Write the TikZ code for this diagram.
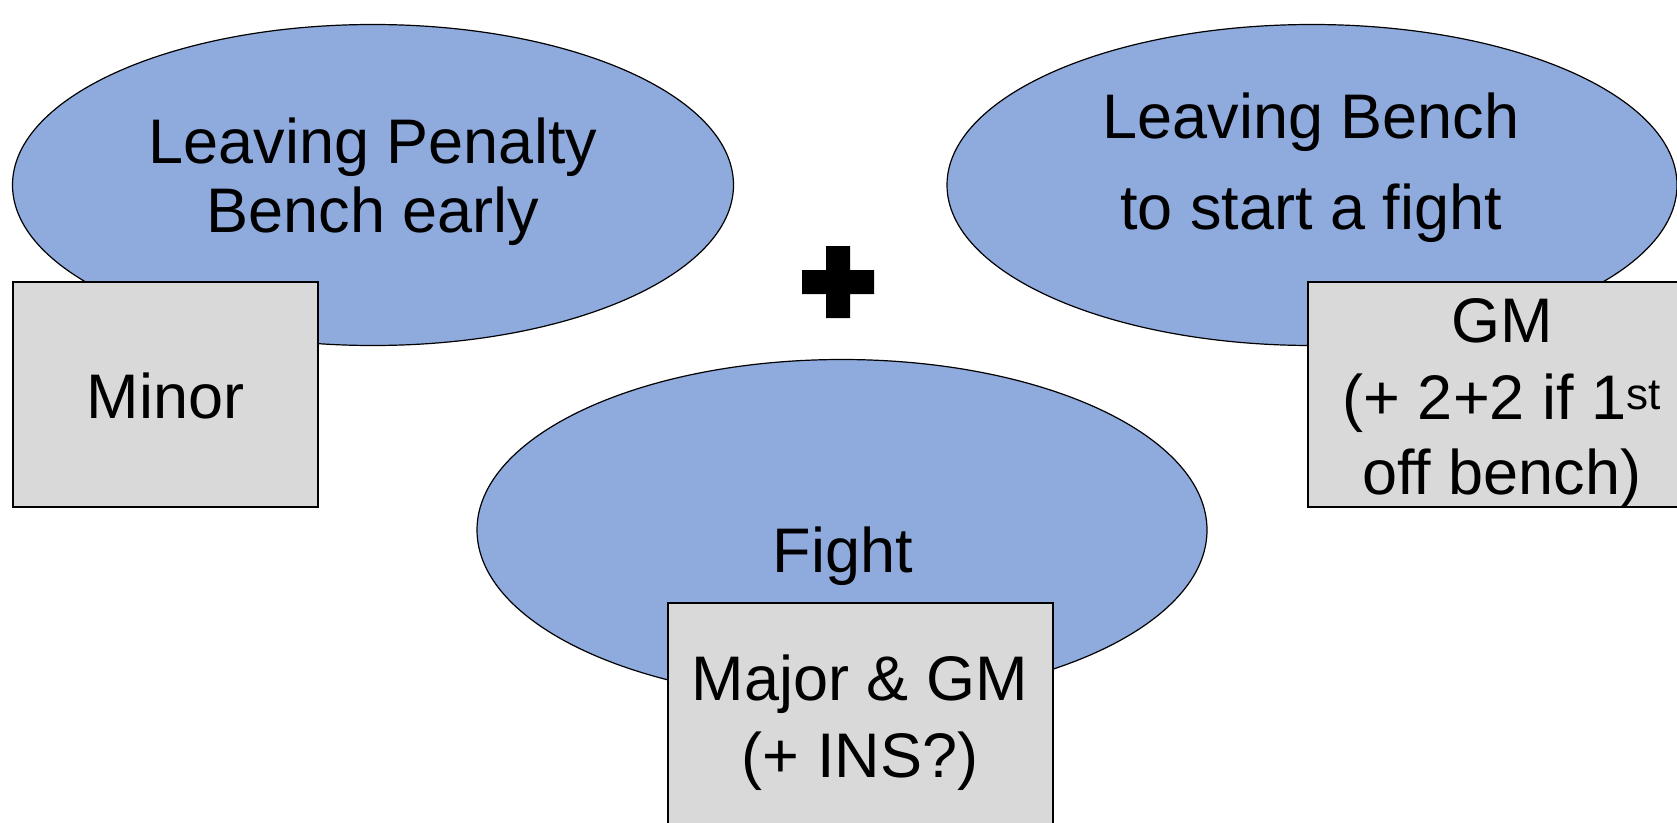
\documentclass[tikz,border=0pt]{standalone}
\usepackage{fontspec}
\setmainfont{Liberation Sans}
\usetikzlibrary{shapes.geometric}

\definecolor{blobblue}{HTML}{8FAADC}
\definecolor{taggray}{HTML}{D9D9D9}

\tikzset{
  blob/.style={ellipse, draw=black, line width=1.2pt, fill=blobblue, inner sep=0pt},
  tag/.style={rectangle, draw=black, line width=1.8pt, fill=taggray, inner sep=0pt},
  lbl/.style={anchor=base, inner sep=0pt, font=\fontsize{63}{72}\selectfont},
}

\begin{document}
\begin{tikzpicture}[x=1pt, y=-1pt]
  \useasboundingbox (0,0) rectangle (1677,822);
  \clip (0,0) rectangle (1677,822);
  \fill[white] (0,0) rectangle (1677,822);

  % leaving the penalty bench early
  \node[blob, minimum width=721pt, minimum height=321pt] (pen) at (373,185) {};
  \node[lbl] (penA) at (373,163) {Leaving Penalty};
  \node[lbl] (penB) at (373,232) {Bench early};
  \node[tag, minimum width=305pt, minimum height=225pt] (minor) at (165.5,394.5) {};
  \node[lbl] (minorT) at (165.5,418) {Minor};

  % leaving the bench to start a fight
  \node[blob, minimum width=730pt, minimum height=321pt] (bench) at (1312,185) {};
  \node[lbl] (benchA) at (1311,138) {Leaving Bench};
  \node[lbl] (benchB) at (1311,229) {to start a fight};
  \node[tag, minimum width=388pt, minimum height=225pt] (gm) at (1502,394.5) {};
  \node[lbl] (gmA) at (1502,342) {GM};
  \node[lbl] (gmB) at (1502,419) {(+ 2+2 if 1\textsuperscript{st}};
  \node[lbl] (gmC) at (1502,494) {off bench)};

  % the fight itself
  \node[blob, minimum width=730pt, minimum height=341pt] (fight) at (842,530) {};
  \node[lbl] (fightT) at (843,572) {Fight};
  \node[tag, minimum width=385pt, minimum height=300pt] (major) at (860.5,753) {};
  \node[lbl] (majorA) at (860,700) {Major \& GM};
  \node[lbl] (majorB) at (860,777) {(+ INS?)};

  % plus sign between the cases
  \coordinate (plus) at (838,282);
  \fill[black] ([xshift=-12pt,yshift=36pt]plus) -- ([xshift=12pt,yshift=36pt]plus)
    -- ([xshift=12pt,yshift=12pt]plus) -- ([xshift=36pt,yshift=12pt]plus)
    -- ([xshift=36pt,yshift=-12pt]plus) -- ([xshift=12pt,yshift=-12pt]plus)
    -- ([xshift=12pt,yshift=-36pt]plus) -- ([xshift=-12pt,yshift=-36pt]plus)
    -- ([xshift=-12pt,yshift=-12pt]plus) -- ([xshift=-36pt,yshift=-12pt]plus)
    -- ([xshift=-36pt,yshift=12pt]plus) -- ([xshift=-12pt,yshift=12pt]plus) -- cycle;
\end{tikzpicture}
\end{document}
